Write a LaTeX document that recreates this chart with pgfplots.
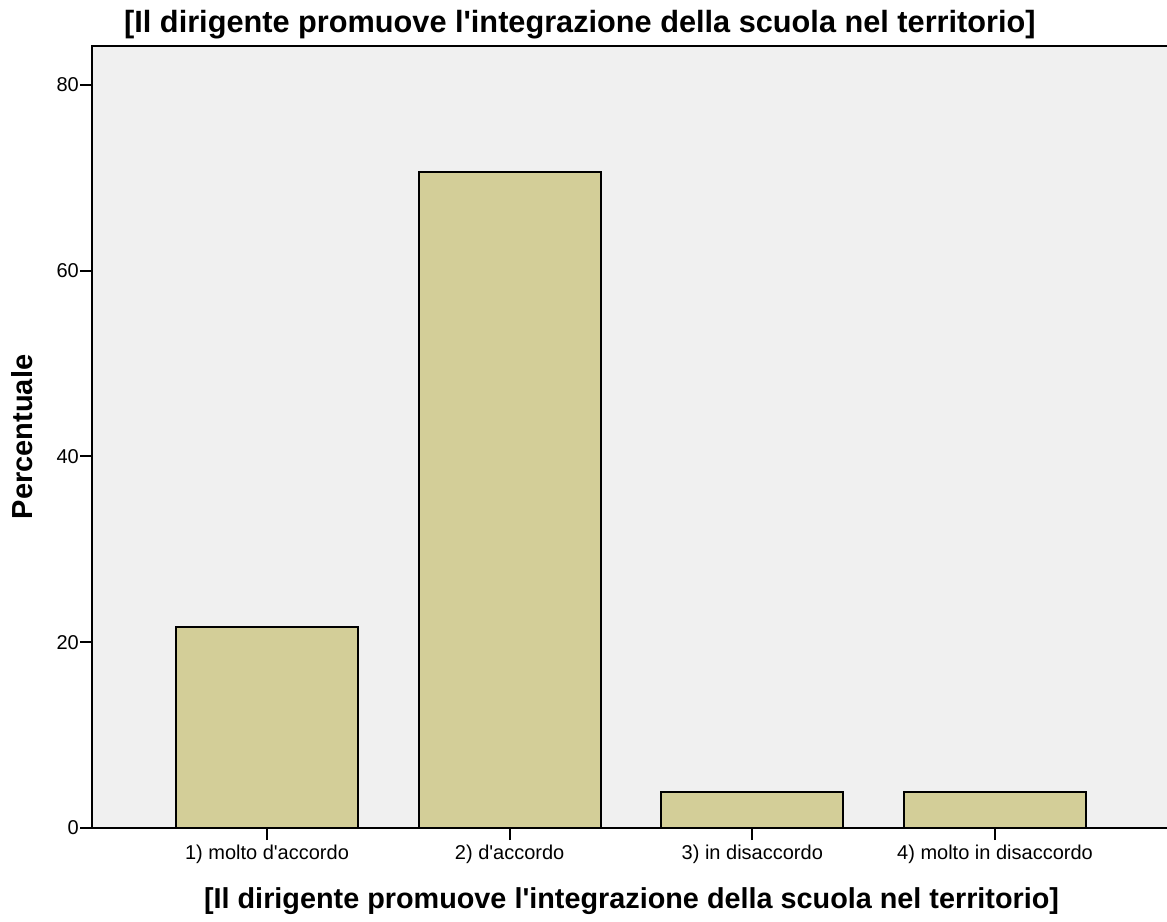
\documentclass[border=0pt]{standalone}
\usepackage{fontspec}
\setmainfont{Liberation Sans}
\usepackage{pgfplots}
\pgfplotsset{compat=1.18}
\definecolor{plotbg}{HTML}{F0F0F0}
\definecolor{barfill}{HTML}{D3CE98}
\newcommand{\ap}{\textquotesingle}
\begin{document}
\begin{tikzpicture}[x=1pt,y=1pt]
\useasboundingbox (0,0) rectangle (1167,921);
\begin{axis}[
  at={(92pt,93pt)}, anchor=south west,
  scale only axis, width=1090pt, height=782pt,
  xmin=0.279, xmax=4.7707, ymin=0, ymax=84.2,
  axis background/.style={fill=plotbg},
  axis line style={line width=2.5pt},
  xtick={1,2,3,4},
  xticklabels={1) molto d\ap accordo,2) d\ap accordo,3) in disaccordo,4) molto in disaccordo},
  ytick={0,20,40,60,80},
  xtick pos=lower, ytick pos=left,
  tick align=outside, major tick length=12pt,
  tick style={line width=2pt, black},
  /pgf/number format/assume math mode=true,
  tick label style={font=\fontsize{20}{24}\selectfont},
  yticklabel style={inner sep=1pt},
  xticklabel style={inner sep=2pt, yshift=-3pt},
  title={[Il dirigente promuove l\ap integrazione della scuola nel territorio]},
  title style={font=\fontsize{30.7}{36}\selectfont\bfseries, at={(axis description cs:0.4476,1)}, anchor=base, yshift=7pt},
  xlabel={[Il dirigente promuove l\ap integrazione della scuola nel territorio]},
  xlabel style={font=\fontsize{28.8}{34}\selectfont\bfseries, at={(axis description cs:0.495,0)}, anchor=base, yshift=-80pt},
  ylabel={Percentuale},
  ylabel style={font=\fontsize{29}{34}\selectfont\bfseries, at={(axis description cs:-0.0642,0.5)}, anchor=center},
]
\addplot[ybar, bar width=0.75, fill=barfill, draw=black, line width=2pt]
  coordinates {(1,21.6) (2,70.6) (3,3.9) (4,3.9)};
\end{axis}
\end{tikzpicture}
\end{document}
